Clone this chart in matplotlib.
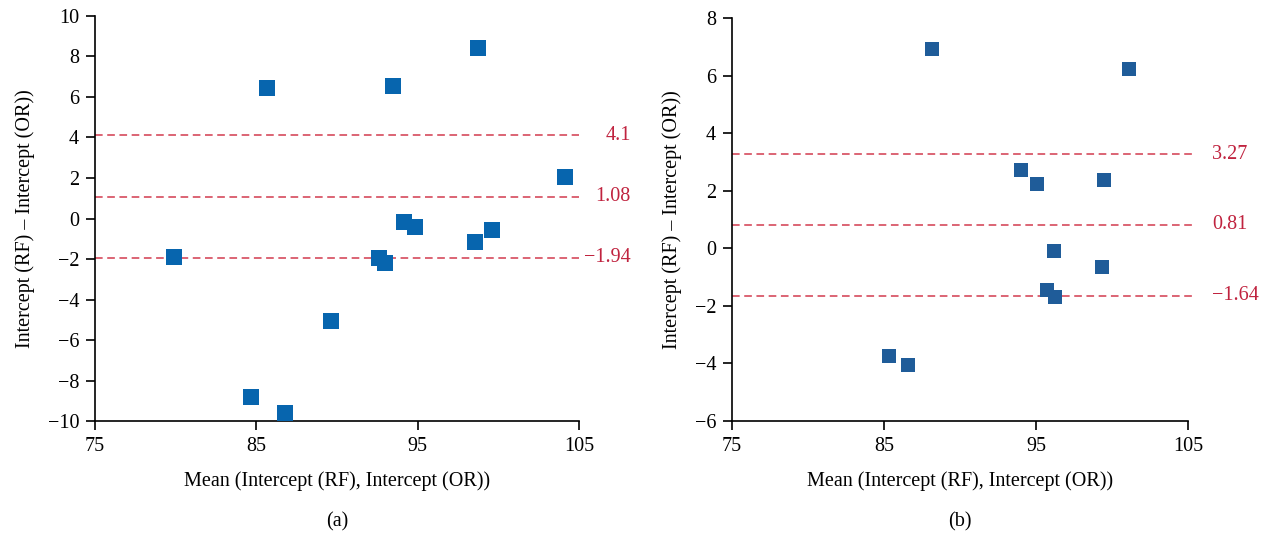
import matplotlib
matplotlib.use('Agg')
import matplotlib.pyplot as plt

plt.rcParams['font.family'] = ['Liberation Serif', 'DejaVu Serif']
plt.rcParams['font.size'] = 14.5

# panel (a)
mean_a = [79.9, 85.65, 93.5, 98.75, 104.16, 94.15, 94.83, 99.59, 98.55, 92.62, 92.98, 89.65, 84.69, 86.77]
diff_a = [-1.88, 6.45, 6.55, 8.42, 2.07, -0.18, -0.42, -0.55, -1.17, -1.95, -2.18, -5.08, -8.83, -9.58]
lines_a = [4.1, 1.08, -1.94]
labels_a = ['4.1', '1.08', '\u22121.94']

# panel (b)
mean_b = [88.18, 101.1, 94.0, 95.05, 99.5, 96.16, 99.32, 95.71, 96.24, 85.34, 86.6]
diff_b = [6.91, 6.24, 2.71, 2.24, 2.36, -0.08, -0.66, -1.44, -1.70, -3.73, -4.04]
lines_b = [3.27, 0.81, -1.64]
labels_b = ['3.27', '0.81', '\u22121.64']

xticks = [75, 85, 95, 105]
yticks_a = [-10, -8, -6, -4, -2, 0, 2, 4, 6, 8, 10]
yticks_b = [-6, -4, -2, 0, 2, 4, 6, 8]

line_color = '#d23a4e'
text_color = '#c0233f'

fig = plt.figure(figsize=(12.7, 5.33), dpi=100)
ax1 = fig.add_axes([0.0748, 0.2101, 0.3811, 0.7599])
ax2 = fig.add_axes([0.5764, 0.2101, 0.3591, 0.7561])

def draw(ax, xs, ys, lines, labels, yticks, color, msize, line_end, text_x, ha, panel):
    ax.plot(xs, ys, 's', color=color, markersize=msize, markeredgewidth=0,
            linestyle='none', zorder=3, clip_on=False)
    for v, lab in zip(lines, labels):
        ax.plot([75, line_end], [v, v], linestyle=(0, (5, 3)), color=line_color, lw=1.1,
                clip_on=False, zorder=2)
        ax.text(text_x, v, lab, color=text_color, ha=ha, va='center', fontsize=14.5, clip_on=False)
    ax.set_xlim(75, 105)
    ax.set_ylim(yticks[0], yticks[-1])
    ax.set_xticks(xticks)
    ax.set_yticks(yticks)
    ax.spines['top'].set_visible(False)
    ax.spines['right'].set_visible(False)
    ax.spines['left'].set_linewidth(1.2)
    ax.spines['bottom'].set_linewidth(1.2)
    ax.tick_params(direction='out', length=6.5, width=1.2, pad=5, labelsize=14.5)
    ax.set_xlabel('Mean (Intercept (RF), Intercept (OR))', fontsize=14.5, labelpad=11)
    ax.set_ylabel('Intercept (RF) \u2013 Intercept (OR))', fontsize=14.5, labelpad=9)
    ax.text(0.5, -0.25, panel, transform=ax.transAxes, ha='center', va='center', fontsize=14.5)

draw(ax1, mean_a, diff_a, lines_a, labels_a, yticks_a, '#0765ae', 11, 105, 108.2, 'right', '(a)')
draw(ax2, mean_b, diff_b, lines_b, labels_b, yticks_b, '#1f5c99', 10, 105.4, 106.6, 'left', '(b)')

fig.savefig('out.png', dpi=100)
